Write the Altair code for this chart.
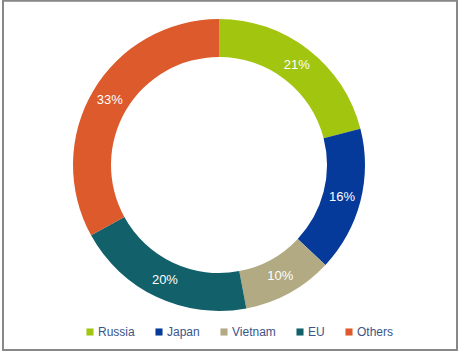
import altair as alt
import pandas as pd

categories = ["Russia", "Japan", "Vietnam", "EU", "Others"]
values = [21, 16, 10, 20, 33]
labels = ["21%", "16%", "10%", "20%", "33%"]
colors = ["#a2c510", "#05399a", "#b1aa82", "#12606a", "#dc5a2b"]

df = pd.DataFrame({
    "category": categories,
    "value": values,
    "label": labels,
    "idx": list(range(len(categories))),
})

CX, CY = 219, 165

base = alt.Chart(df).encode(
    theta=alt.Theta("value:Q", stack=True),
    order=alt.Order("idx:Q", sort="ascending"),
)

arcs = base.mark_arc(outerRadius=146, innerRadius=108).encode(
    x=alt.value(CX),
    y=alt.value(CY),
    color=alt.Color(
        "category:N",
        scale=alt.Scale(domain=categories, range=colors),
        sort=categories,
        legend=alt.Legend(
            title=None,
            orient="none",
            legendX=84,
            legendY=326,
            direction="horizontal",
            symbolType="square",
            symbolSize=50,
            symbolStrokeWidth=0,
            labelFont="Liberation Sans",
            labelFontSize=12,
            labelColor="#3b5488",
            labelOffset=2,
            columnPadding=18,
        ),
    ),
)

text = base.mark_text(
    radius=127, font="Liberation Sans", fontSize=13, color="white"
).encode(
    x=alt.value(CX),
    y=alt.value(CY),
    text="label:N",
)

border = alt.Chart(df).mark_rect(
    fill=None, stroke="#888888", strokeWidth=1.5
).encode(
    x=alt.value(3), x2=alt.value(457), y=alt.value(0.5), y2=alt.value(350)
)

chart = alt.layer(border, arcs, text).properties(
    width=460,
    height=354,
    padding=0,
    autosize=alt.AutoSizeParams(type="none"),
    background="white",
).configure_view(stroke=None)

chart.save("out.html", embed_options={"renderer": "svg", "actions": False})
